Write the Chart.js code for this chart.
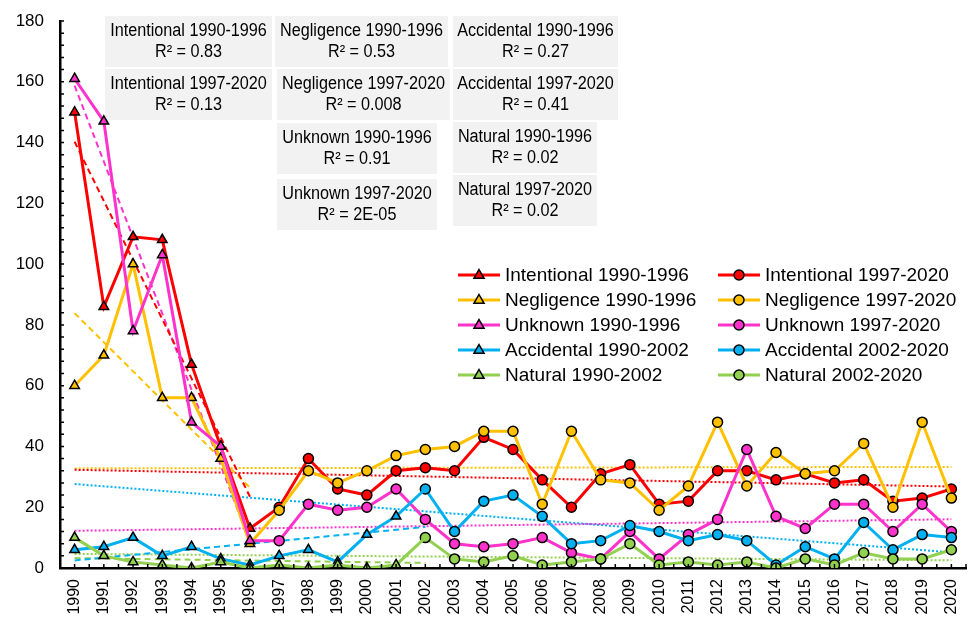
<!DOCTYPE html>
<html>
<head>
<meta charset="utf-8">
<script src="https://cdn.jsdelivr.net/npm/chart.js@4.4.1/dist/chart.umd.min.js"></script>
<style>
  html, body { margin: 0; padding: 0; background: #fff; }
</style>
</head>
<body>
<canvas id="lineChart" width="973" height="621"></canvas>
<script>
// years on the x axis
const years = ['1990', '1991', '1992', '1993', '1994', '1995', '1996', '1997', '1998', '1999',
    '2000', '2001', '2002', '2003', '2004', '2005', '2006', '2007', '2008', '2009', '2010',
    '2011', '2012', '2013', '2014', '2015', '2016', '2017', '2018', '2019', '2020'];

// 1990-1996
const intentionalEarly = [150, 86, 109, 108, 67, 40, 13];
const negligenceEarly = [60, 70, 100, 56, 56, 36, 8];
const unknownEarly = [161, 147, 78, 103, 48, 40, 9];
// 1990-2002
const accidentalEarly = [6, 7, 10, 4, 7, 3, 1, 4, 6, 2, 11, 17, 26];
const naturalEarly = [10, 4, 2, 1, 0, 2, 0, 1, 0, 1, 0, 1, 10];

// 1997-2020
const intentionalLate = [20, 36, 26, 24, 32, 33, 32, 43, 39, 29, 20, 31, 34, 21, 22, 32, 32, 29, 31, 28, 29, 22, 23, 26];
const negligenceLate = [19, 32, 28, 32, 37, 39, 40, 45, 45, 21, 45, 29, 28, 19, 27, 48, 27, 38, 31, 32, 41, 20, 48, 23];
const unknownLate = [9, 21, 19, 20, 26, 16, 8, 7, 8, 10, 5, 3, 12, 3, 11, 16, 39, 17, 13, 21, 21, 12, 21, 12];
// 2002-2020
const accidentalLate = [26, 12, 22, 24, 17, 8, 9, 14, 12, 9, 11, 9, 1, 7, 3, 15, 6, 11, 10];
const naturalLate = [10, 3, 2, 4, 1, 2, 3, 8, 1, 2, 1, 2, 0, 3, 1, 5, 3, 3, 6];

// text of the R² boxes
const r2Titles = ['Intentional 1990-1996', 'Intentional 1997-2020', 'Negligence 1990-1996', 'Negligence 1997-2020',
    'Accidental 1990-1996', 'Accidental 1997-2020', 'Unknown 1990-1996', 'Unknown 1997-2020',
    'Natural 1990-1996', 'Natural 1997-2020'];
const r2Values = ['R² = 0.83', 'R² = 0.13', 'R² = 0.53', 'R² = 0.008', 'R² = 0.27', 'R² = 0.41',
    'R² = 0.91', 'R² = 2E-05', 'R² = 0.02', 'R² = 0.02'];

const RED = '#FF0000', YELLOW = '#FFC000', PINK = '#FF33CC', BLUE = '#00B0F0', GREEN = '#92D050';

// put a run of values at its year, nulls elsewhere
function place(values, startYear) {
    let arr = years.map(() => null);
    let s = years.indexOf(String(startYear));
    values.forEach((v, i) => arr[s + i] = v);
    return arr;
}

// least squares line of a series, drawn between two years
function trend(values, startYear, fromYear, toYear) {
    let n = values.length;
    let mx = 0, my = 0;
    values.forEach((v, i) => { mx += startYear + i; my += v; });
    mx /= n; my /= n;
    let sxy = 0, sxx = 0;
    values.forEach((v, i) => { let dx = startYear + i - mx; sxy += dx * (v - my); sxx += dx * dx; });
    let slope = sxy / sxx;
    return years.map(y => (+y >= fromYear && +y <= toYear) ? my + slope * (+y - mx) : null);
}

function series(label, color, data, style, hidden, order) {
    return {
        label: label,
        data: data,
        borderColor: color,
        backgroundColor: color,
        borderWidth: 3,
        pointStyle: style,
        pointRadius: (c) => c.dataIndex === hidden ? 0 : (style === 'triangle' ? 5.5 : 5),
        pointBackgroundColor: color,
        pointBorderColor: '#000',
        pointBorderWidth: 1.5,
        tension: 0,
        spanGaps: false,
        order: order
    };
}

function trendLine(color, data, dotted) {
    return {
        label: '',
        isTrend: true,
        data: data,
        borderColor: color,
        borderWidth: 2,
        borderDash: dotted ? [2, 2] : [6, 4],
        pointRadius: 0,
        tension: 0,
        spanGaps: true,
        order: 20
    };
}

const datasets = [
    series('Intentional 1990-1996', RED, place(intentionalEarly, 1990), 'triangle', -1, 5),
    series('Negligence 1990-1996', YELLOW, place(negligenceEarly, 1990), 'triangle', -1, 4),
    series('Unknown 1990-1996', PINK, place(unknownEarly, 1990), 'triangle', -1, 3),
    series('Accidental 1990-2002', BLUE, place(accidentalEarly, 1990), 'triangle', 12, 2),
    series('Natural 1990-2002', GREEN, place(naturalEarly, 1990), 'triangle', 12, 1),
    // late series start from the last early point so the lines join up
    series('Intentional 1997-2020', RED, place([intentionalEarly[6]].concat(intentionalLate), 1996), 'circle', 6, 5),
    series('Negligence 1997-2020', YELLOW, place([negligenceEarly[6]].concat(negligenceLate), 1996), 'circle', 6, 4),
    series('Unknown 1997-2020', PINK, place([unknownEarly[6]].concat(unknownLate), 1996), 'circle', 6, 3),
    series('Accidental 2002-2020', BLUE, place(accidentalLate, 2002), 'circle', -1, 2),
    series('Natural 2002-2020', GREEN, place(naturalLate, 2002), 'circle', -1, 1),

    trendLine(RED, trend(intentionalEarly, 1990, 1990, 1996), false),
    trendLine(YELLOW, trend(negligenceEarly, 1990, 1990, 1996), false),
    trendLine(PINK, trend(unknownEarly, 1990, 1990, 1996), false),
    trendLine(BLUE, trend(accidentalEarly, 1990, 1990, 2002), false),
    trendLine(GREEN, trend(naturalEarly, 1990, 1990, 2002), false),
    trendLine(RED, trend(intentionalLate, 1997, 1990, 2020), true),
    trendLine(YELLOW, trend(negligenceLate, 1997, 1990, 2020), true),
    trendLine(PINK, trend(unknownLate, 1997, 1990, 2020), true),
    trendLine(BLUE, trend(accidentalLate, 2002, 1990, 2020), true),
    trendLine(GREEN, trend(naturalLate, 2002, 1990, 2020), true)
];

// grey R² boxes, behind the lines
const r2Boxes = {
    id: 'r2Boxes',
    beforeDatasetsDraw(chart) {
        const { ctx } = chart;
        const layout = [[105, 16, 167, 51], [105, 69, 167, 51], [275, 16, 173, 51], [277, 69, 173, 51],
            [453, 16, 165, 51], [453, 69, 165, 51], [277, 123, 160, 51], [277, 179, 160, 51],
            [453, 122, 144, 51], [453, 175, 144, 51]];
        ctx.save();
        ctx.font = '18px "Liberation Sans", Arial, sans-serif';
        ctx.textAlign = 'center';
        ctx.textBaseline = 'middle';
        for (let i = 0; i < layout.length; i++) {
            let [bx, by, bw, bh] = layout[i];
            ctx.fillStyle = '#F2F2F2';
            ctx.fillRect(bx, by, bw, bh);
            ctx.fillStyle = '#000';
            [[r2Titles[i], 15], [r2Values[i], 36]].forEach(([t, dy]) => {
                ctx.save();
                ctx.translate(bx + bw / 2, by + dy);
                ctx.scale(0.9, 1);
                ctx.fillText(t, 0, 0);
                ctx.restore();
            });
        }
        ctx.restore();
    }
};

// tick marks, and the two column legend
const extras = {
    id: 'extras',
    afterDraw(chart) {
        const { ctx, chartArea: { left, bottom }, scales: { x, y } } = chart;
        ctx.save();
        ctx.strokeStyle = '#000';
        ctx.lineWidth = 1.5;
        ctx.beginPath();
        for (let v = 0; v <= 180; v += 4) {
            let py = y.getPixelForValue(v);
            ctx.moveTo(left, py);
            ctx.lineTo(left + 4, py);
        }
        let step = x.getPixelForValue(1) - x.getPixelForValue(0);
        for (let i = 0; i < years.length; i++) {
            let px = x.getPixelForValue(i);
            ctx.moveTo(px, bottom);
            ctx.lineTo(px, bottom - 4);
            ctx.moveTo(px + step / 2, bottom);
            ctx.lineTo(px + step / 2, bottom - 4);
        }
        ctx.stroke();

        ctx.font = '19px "Liberation Sans", Arial, sans-serif';
        ctx.textBaseline = 'middle';
        ctx.textAlign = 'left';
        const items = chart.data.datasets.filter(d => !d.isTrend);
        items.forEach((d, i) => {
            let lx = i < 5 ? 458 : 718;
            let ly = 275 + (i % 5) * 25;
            ctx.strokeStyle = d.borderColor;
            ctx.lineWidth = 3;
            ctx.beginPath();
            ctx.moveTo(lx, ly);
            ctx.lineTo(lx + 42, ly);
            ctx.stroke();
            ctx.fillStyle = d.pointBackgroundColor;
            ctx.strokeStyle = '#000';
            ctx.lineWidth = 1.5;
            ctx.beginPath();
            if (d.pointStyle === 'triangle') {
                let r = 5.5;
                ctx.moveTo(lx + 21, ly - r);
                ctx.lineTo(lx + 21 + r * 0.92, ly + r * 0.6);
                ctx.lineTo(lx + 21 - r * 0.92, ly + r * 0.6);
                ctx.closePath();
            } else {
                ctx.arc(lx + 21, ly, 5, 0, Math.PI * 2);
            }
            ctx.fill();
            ctx.stroke();
            ctx.fillStyle = '#000';
            ctx.fillText(d.label, lx + 47, ly + 1);
        });
        ctx.restore();
    }
};

Chart.defaults.font.family = '"Liberation Sans", Arial, sans-serif';
Chart.defaults.color = '#000';

const ctx = document.getElementById('lineChart').getContext('2d');
const chart = new Chart(ctx, {
    type: 'line',
    data: {
        labels: years,
        datasets: datasets
    },
    options: {
        responsive: false,
        devicePixelRatio: 1,
        animation: false,
        layout: {
            padding: { top: 21, right: 3, left: 0, bottom: 0 }
        },
        scales: {
            x: {
                offset: true,
                grid: { display: false, drawTicks: true, tickLength: 7 },
                border: { display: true, color: '#000', width: 2.5 },
                ticks: {
                    font: { size: 16 },
                    minRotation: 90,
                    maxRotation: 90,
                    autoSkip: false,
                    padding: 4
                },
                afterFit(scale) {
                    scale.height = 53;
                    scale.paddingLeft = 0;
                    scale.paddingRight = 0;
                }
            },
            y: {
                min: 0,
                max: 180,
                grid: { display: false, drawTicks: false },
                border: { display: true, color: '#000', width: 2.5 },
                ticks: {
                    stepSize: 20,
                    font: { size: 17 },
                    padding: 16
                },
                afterFit(scale) {
                    scale.width = 60;
                    scale.paddingTop = 0;
                    scale.paddingBottom = 0;
                }
            }
        },
        plugins: {
            legend: { display: false },
            tooltip: { enabled: false }
        }
    },
    plugins: [r2Boxes, extras]
});
</script>
</body>
</html>
